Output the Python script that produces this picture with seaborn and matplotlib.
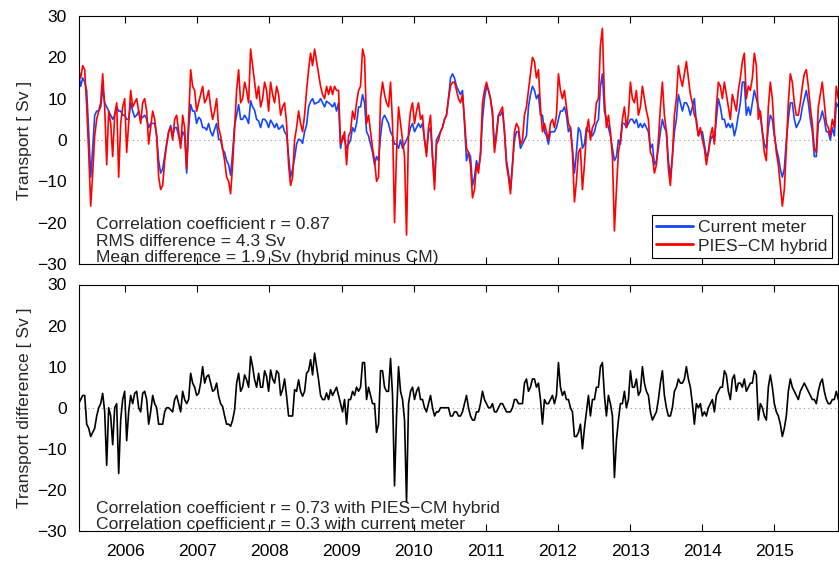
import matplotlib
matplotlib.use("Agg")
import matplotlib.pyplot as plt
import matplotlib.dates as mdates
import numpy as np
import pandas as pd
import seaborn as sns

# Transport time series, May 2005 - Nov 2015 [Sv].
# "*_grid" values sit on a ~20-day grid; "*_mid" values sit halfway between
# consecutive grid dates.
start_date = "2005-05-10"
end_date = "2015-11-21"

hybrid_grid = [
    17, 18, 8, -16, 1, 7, 16, -6, 4, 6,
    -9, 8, -3, 12, 9, 7, 9, 7, 3, 5,
    -9, -11, -1, 3, 5, 2, 6, -7, 17, 12,
    9, 13, 10, 8, 7, 3, -2, -9, -13, 3,
    17, 10, 12, 22, 14, 13, 10, 12, 14, 9,
    11, 8, 4, -11, 0, 7, 2, 12, 21, 22,
    16, 11, 13, 13,
    13, 12, 0, -6, 2, 5, 12, 22, 4, 2,
    -5, -9, 14, 9, 14, -20, 8, 0, -23, 7,
    4, 9, 6, -4, 6, -12, 0, 3, 6, 13,
    14, 10, 11, -2, -6, -12, -8, 9, 14, 10,
    -3, 6, 8, -6, -13, 2, 3, 0, 8, 16,
    19, 17, 2, 2, 4, 3, 16, 10, 8, 3,
    -15, -3,
    -12, 2, 0, 4, 10, 27, 3, 2, -22, -3,
    5, 3, 14, 9, 6, 13, 7, -3, -8, 0,
    14, 2, -11, 6, 18, 13, 19, 11, 6, 1,
    0, -6, 1, -1, 14, 10, 11, 5, 9, 12,
    19, 10, 12, 21, 5, 2, -5, 14, 2, -6,
    -16, -2, 16, 9, 6, 13, 17, 8, -2, 8,
    14, 4, 1, 3, 10,
]
hybrid_mid = [
    15, 17, -3, -8, 5, 9, 8, 7, -4, 9,
    4, 10, 4, 8, 10, 4, 10, -1, 7, 1,
    -12, -5, 2, 0, 6, -2, 3, 5, 13, 7,
    11, 9, 12, 5, 10, 1, -5, -10, -6, 12,
    9, 14, 9, 18, 10, 8, 14, 7, 11, 13,
    6, 9, -6, -9, 3, 4, 6, 17, 18, 19,
    13, 10, 11, 11,
    12, -1, 2, 1, 7, 9, 13, 20, 6, -2,
    -10, 10, 11, 8, 4, -3, 4, -4, 2, 9,
    7, 5, 0, 3, -4, -1, 2, 5, 10, 14,
    12, 9, 5, -3, -14, -6, -3, 12, 12, 7,
    1, 7, 2, -9, -6, 4, -1, 6, 12, 20,
    15, 8, 4, 0, 5, 6, 12, 12, 4, -3,
    -10, -2,
    -6, 5, 3, 9, 23, 10, 6, -4, -12, 0,
    8, 6, 10, 12, 8, 10, 5, -4, -6, 8,
    6, -7, -4, 10, 15, 16, 15, 9, 5, 3,
    -2, -3, 3, 8, 13, 14, 8, 11, 7, 15,
    21, 13, 15, 18, 7, -3, 8, 10, -3, -11,
    -12, 9, 14, 6, 9, 16, 13, 4, -3, 11,
    9, 3, 5, 13,
]

current_meter_grid = [
    16, 15, 12, -9, 6, 7, 12.5, 8, 6, 6,
    7, 6, 5, 9, 5.5, 7, 5.5, 5, 4, 4,
    -5, -7, -1, 3.5, 3, 1, 2, -8, 8.6, 7,
    5.5, 3, 2.4, 2, 2.6, 0.2, -2.3, -5, -8.5, 3.5,
    8.6, 5, 5.2, 9.5, 7.2, 4.6, 5, 4.4, 4.8, 3,
    2.6, 3.6, 1.2, -9, -4.4, 0.2, -0.8, 3.6, 9.3, 8.7,
    9.2, 9, 9.4, 8.6,
    9, 9, 1, -2, 0, 2, 8, 11, 2, -1,
    -6, -5, 5, 5, 2, -1, -2, -2, 0, 3,
    2, 4, 4, -3, 3, -10, 1, 3, 6, 15,
    15, 12, 12, -5, -4, -9, -7, 5, 13, 10,
    -2, 6, 7, -5, -12, 0, 2, -1, 1, 11,
    12, 11, 6, 1, 2, 2, 5, 7, 6, 3,
    -8, 3,
    -2, 3, 2, 2, 5, 16, 5, 1, -5, 0,
    4, 3, 5, 4, 3, 3, 3, -2, -6, -2,
    5, 2, -9, 2, 11, 7, 9, 6, 10, 1,
    2, -4, 0, 0, 10, 5, 3, 3, 1, 6,
    14, 6, 6, 12, 8, 2, -2, 6, 1, -4,
    -9, 0, 9, 5, 4, 8, 12, 5, -4, 4,
    7, 2, 0, 1, 8,
]
current_meter_mid = [
    13, 14, 2, -2, 7, 8, 9, 7, 5, 8,
    7, 6, 5, 7, 6, 5, 6, 3, 4, 1,
    -8, -4, 2, 1, 3, -1, 1, 3, 7, 4,
    5, 3, 4, 1, 4, 0, -3, -6, -3, 6,
    5, 6, 4, 8, 5, 3, 5, 3, 4, 4,
    3, 2, -4, -7, -1, 0, 2, 8, 10, 9,
    10, 8, 9, 8,
    7, -2, 0, -1, 3, 4, 8, 9, 1, -3,
    -4, 1, 6, 4, 1, -1, 0, -1, 1, 4,
    3, 3, 0, 2, -4, 0, 2, 5, 10, 16,
    13, 11, 4, -3, -11, -5, -4, 10, 12, 6,
    2, 6, 2, -8, -6, 2, -2, 0, 8, 13,
    10, 6, 2, -1, 2, 3, 7, 8, 2, -2,
    -3, 2,
    -1, 2, 1, 4, 13, 7, 3, -2, -4, -1,
    4, 4, 5, 5, 4, 4, 2, -1, -5, 2,
    3, -5, -4, 5, 9, 9, 8, 8, 4, 2,
    -1, -3, 1, 5, 8, 5, 4, 4, 3, 9,
    14, 8, 9, 10, 6, -1, 3, 5, -2, -7,
    -7, 5, 9, 3, 5, 10, 9, 2, -4, 5,
    5, 2, 3, 9,
]

difference_grid = [
    1, 3, -4, -7, -5, 0, 3.5, -14, -2, 0,
    -16, 2, -8, 3, 3.5, 0, 3.5, 2, -1, 1,
    -4, -4, 0, -0.5, 2, 1, 4, 1, 8.4, 5,
    3.5, 10, 7.6, 6, 4.4, 2.8, 0.3, -4, -4.5, -0.5,
    8.4, 5, 6.8, 12.5, 6.8, 8.4, 5, 7.6, 9.2, 6,
    8.4, 4.4, 2.8, -2, 4.4, 6.8, 2.8, 8.4, 11.7, 13.3,
    6.8, 2, 3.6, 4.4,
    4, 3, -1, -4, 2, 3, 4, 11, 2, 3,
    1, -4, 9, 4, 12, -19, 10, 2, -23, 4,
    2, 5, 2, -1, 3, -2, -1, 0, 0, -2,
    -1, -2, -1, 3, -2, -3, -1, 4, 1, 0,
    -1, 0, 1, -1, -1, 2, 1, 1, 7, 5,
    7, 6, -4, 1, 2, 1, 11, 3, 2, 0,
    -7, -6,
    -10, -1, -2, 2, 5, 11, -2, 1, -17, -3,
    1, 0, 9, 5, 3, 10, 4, -1, -2, 2,
    9, 0, -2, 4, 7, 6, 10, 5, -4, 0,
    -2, -2, 1, -1, 4, 5, 8, 2, 8, 6,
    5, 4, 6, 9, -3, 0, -3, 8, 1, -2,
    -7, -2, 7, 4, 2, 5, 5, 3, 2, 4,
    7, 2, 1, 2, 2,
]
difference_mid = [
    2, 3, -5, -6, -2, 1, -1, 0, -9, 1,
    -3, 4, -1, 1, 4, -1, 4, -4, 3, 0,
    -4, -1, 0, -1, 3, -1, 2, 2, 6, 3,
    6, 6, 8, 4, 6, 1, -2, -4, -3, 6,
    4, 8, 5, 10, 5, 5, 9, 4, 7, 9,
    3, 7, -2, -2, 4, 4, 4, 9, 8, 10,
    3, 2, 2, 3,
    5, 1, 2, 2, 4, 5, 5, 11, 5, 1,
    -6, 9, 5, 4, 3, -2, 4, -3, 1, 5,
    4, 2, 0, 1, 0, -1, 0, 0, 0, -2,
    -1, -2, 1, 0, -3, -1, 1, 2, 0, 1,
    -1, 1, 0, -1, 0, 2, 1, 6, 4, 7,
    5, 2, 2, 1, 3, 3, 5, 4, 2, -1,
    -7, -4,
    -5, 3, 2, 5, 10, 3, 3, -2, -8, 1,
    4, 2, 5, 7, 4, 6, 3, -3, -1, 6,
    3, -2, 0, 5, 6, 7, 7, 1, 1, 1,
    -1, 0, 2, 3, 5, 9, 4, 7, 4, 6,
    7, 5, 6, 8, 1, -2, 5, 5, -1, -4,
    -5, 4, 5, 3, 4, 6, 4, 2, 1, 6,
    4, 1, 2, 4,
]

y_ticks = [-30, -20, -10, 0, 10, 20, 30]
stats_top = [
    "Correlation coefficient r = 0.87",
    "RMS difference = 4.3 Sv",
    "Mean difference = 1.9 Sv (hybrid minus CM)",
]
stats_bottom = [
    "Correlation coefficient r = 0.73 with PIES\u2212CM hybrid",
    "Correlation coefficient r = 0.3 with current meter",
]

# Assemble one table: grid samples plus the samples between them
grid_dates = pd.date_range(start_date, end_date, periods=len(hybrid_grid))
mid_dates = grid_dates[:-1] + (grid_dates[1:] - grid_dates[:-1]) / 2
df = pd.concat([
    pd.DataFrame({"date": grid_dates, "cm": current_meter_grid,
                  "hybrid": hybrid_grid, "diff": difference_grid}),
    pd.DataFrame({"date": mid_dates, "cm": current_meter_mid,
                  "hybrid": hybrid_mid, "diff": difference_mid}),
]).sort_values("date").reset_index(drop=True)

sns.set_theme(style="white")
plt.rcParams["font.family"] = ["Liberation Sans", "DejaVu Sans"]
plt.rcParams["axes.unicode_minus"] = True
FS = 12.6

W, H = 839, 562
fig = plt.figure(figsize=(W / 100, H / 100), dpi=100)
left = 78.7 / W
width = (838.3 - 78.7) / W
ax1 = fig.add_axes([left, (H - 264) / H, width, (264 - 16) / H])
ax2 = fig.add_axes([left, (H - 531) / H, width, (531 - 284.5) / H])

blue = "#1446ff"
red = "#ff0000"

sns.lineplot(data=df, x="date", y="cm", ax=ax1, color=blue, lw=1.2,
             label="Current meter")
sns.lineplot(data=df, x="date", y="hybrid", ax=ax1, color=red, lw=1.2,
             label="PIES\u2212CM hybrid")
sns.lineplot(data=df, x="date", y="diff", ax=ax2, color="black", lw=1.2,
             legend=False)

xmin, xmax = pd.Timestamp(start_date), pd.Timestamp(end_date)
for ax in (ax1, ax2):
    ax.axhline(0, color="#999999", lw=0.8, ls=(0, (1, 3)), zorder=0)
    ax.set_xlim(xmin, xmax)
    ax.set_ylim(-30, 30)
    ax.set_yticks(y_ticks)
    ax.xaxis.set_major_locator(mdates.YearLocator())
    ax.xaxis.set_major_formatter(mdates.DateFormatter("%Y"))
    ax.tick_params(axis="x", direction="in", length=5, width=0.8,
                   top=True, bottom=True, colors="black", pad=9,
                   labelsize=FS)
    ax.tick_params(axis="y", length=0, pad=8.5, labelsize=FS,
                   colors="black")
    for s in ax.spines.values():
        s.set_color("black")
        s.set_linewidth(0.8)
    ax.set_xlabel("")
    ax.grid(False)

ax1.tick_params(axis="x", labelbottom=False)
ax1.set_ylabel("Transport [ Sv ]", fontsize=FS)
ax2.set_ylabel("Transport difference [ Sv ]", fontsize=FS)
ax1.yaxis.set_label_coords(-0.062, 0.5)
ax2.yaxis.set_label_coords(-0.062, 0.5)

for i, line in enumerate(stats_top):
    ax1.text(0.0228, -21.5 - 4.05 * i, line,
             transform=ax1.get_yaxis_transform(),
             fontsize=FS, va="baseline", ha="left")
for i, line in enumerate(stats_bottom):
    ax2.text(0.0228, -25.5 - 4.0 * i, line,
             transform=ax2.get_yaxis_transform(),
             fontsize=FS, va="baseline", ha="left")

leg = ax1.legend(loc="lower right", frameon=True, fancybox=False,
                 edgecolor="black", framealpha=1, fontsize=FS,
                 handlelength=2.1, handletextpad=0.3, borderaxespad=0.35,
                 labelspacing=0.2, borderpad=0.25)
leg.get_frame().set_linewidth(0.8)
for h in leg.get_lines():
    h.set_linewidth(2.0)

fig.savefig("out.png", dpi=100)
